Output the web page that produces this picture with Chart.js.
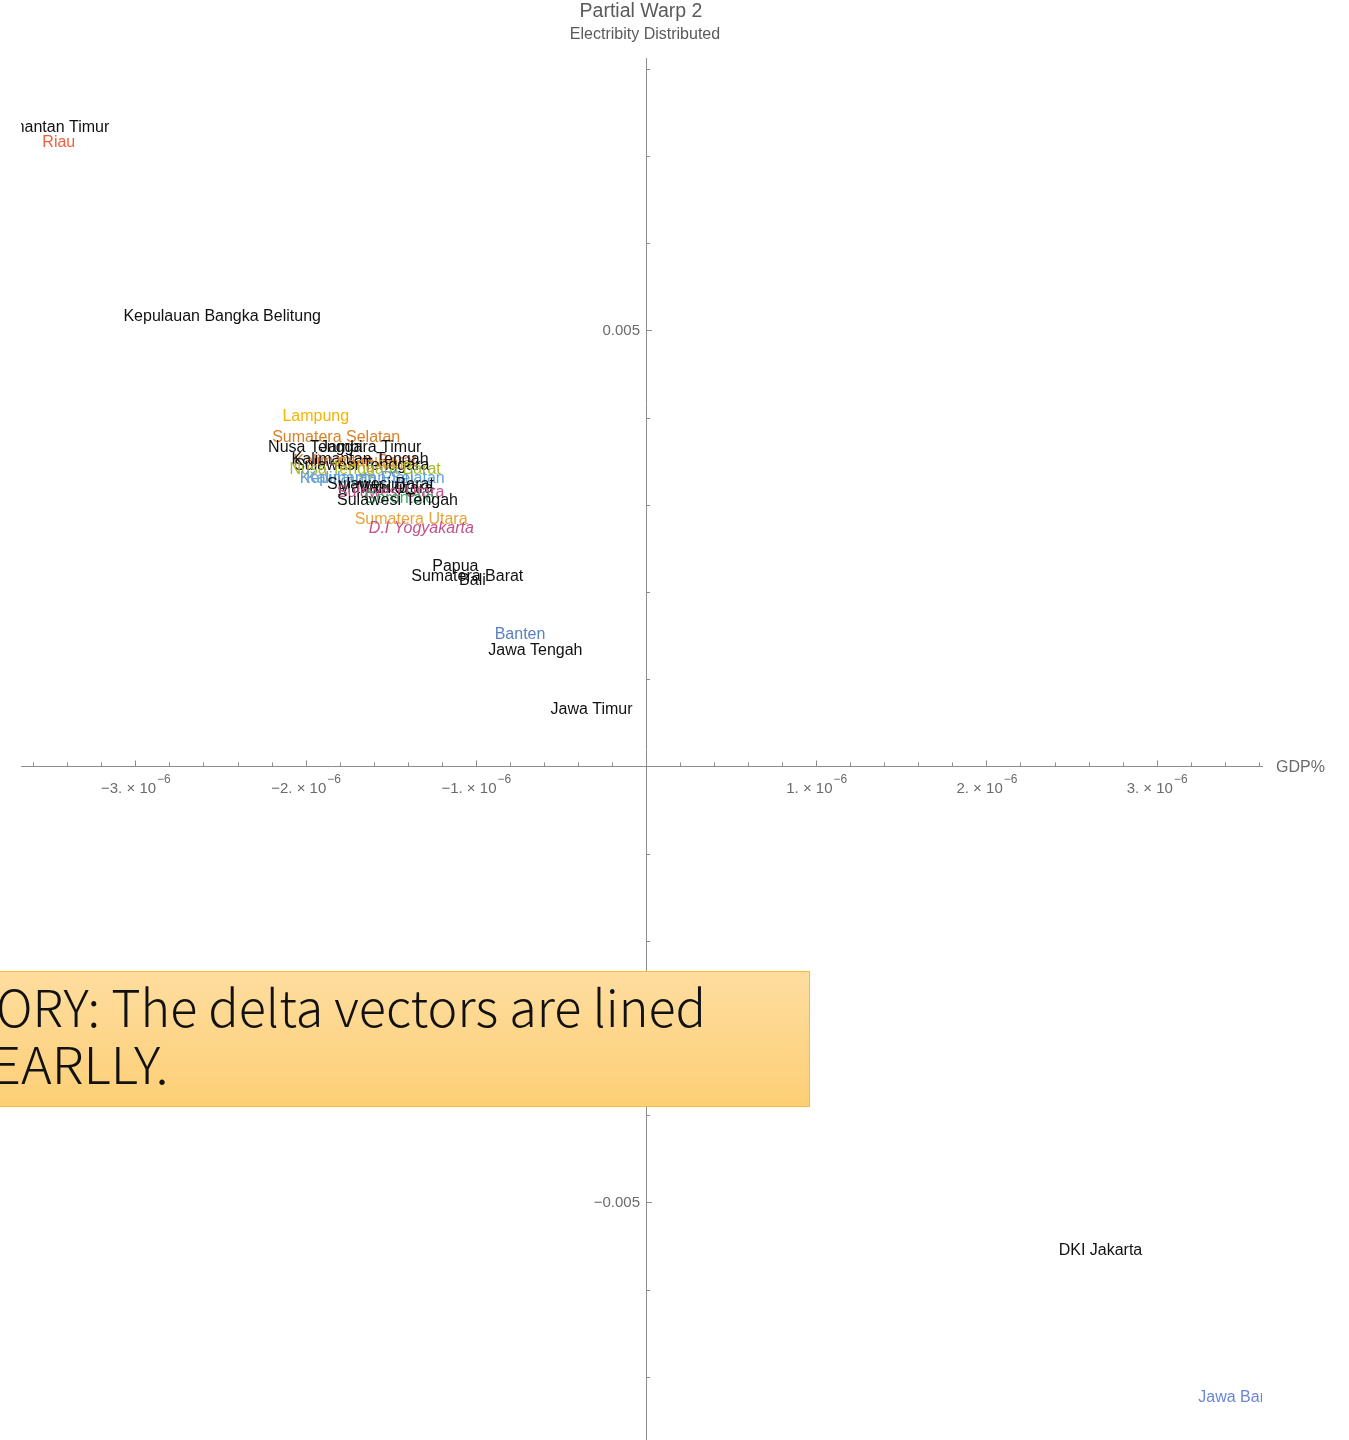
<!DOCTYPE html>
<html>
<head>
<meta charset="utf-8">
<script src="https://cdn.jsdelivr.net/npm/chart.js@4.4.0/dist/chart.umd.min.js"></script>
<style>
html, body { margin: 0; padding: 0; background: #fff; }
#wrap { position: relative; width: 1349px; height: 1440px; overflow: hidden; }
</style>
</head>
<body>
<div id="wrap"><canvas id="chart" width="1349" height="1440"></canvas></div>
<script>
// province labels, placed at their (GDP%, electricity) partial warp coordinates
const provinces = [
    "Kalimantan Timur", "Riau", "Kepulauan Bangka Belitung", "Lampung", "Sumatera Selatan",
    "Nusa Tenggara Timur", "Jambi", "Kalimantan Barat", "Kalimantan Tengah", "Bengkulu",
    "Sulawesi Tenggara", "Nusa Tenggara Barat", "Kepulauan Riau", "Kalimantan Selatan",
    "Sulawesi Barat", "Maluku", "Maluku Utara", "Sulawesi Utara", "Gorontalo", "Sulawesi Tengah",
    "Sumatera Utara", "D.I Yogyakarta", "Papua", "Sumatera Barat", "Bali", "Banten",
    "Jawa Tengah", "Jawa Timur", "DKI Jakarta", "Jawa Barat"
]

// GDP% (x 10^-6)
const gdpShift = [
    -3.52, -3.45, -2.49, -1.94, -1.82,
    -1.77, -1.79, -1.71, -1.68, -1.62,
    -1.67, -1.65, -1.70, -1.59,
    -1.56, -1.55, -1.53, -1.50, -1.45, -1.46,
    -1.38, -1.32, -1.12, -1.05, -1.02, -0.74,
    -0.65, -0.32, 2.67, 3.48
]

// Electricity distributed (x 10^-3)
const elecShift = [
    7.35, 7.18, 5.18, 4.03, 3.79,
    3.68, 3.68, 3.52, 3.54, 3.49,
    3.47, 3.43, 3.33, 3.32,
    3.26, 3.21, 3.21, 3.16, 3.10, 3.07,
    2.86, 2.75, 2.32, 2.20, 2.15, 1.54,
    1.35, 0.68, -5.53, -7.22
]

const labelColors = [
    "#111111", "#f0623e", "#111111", "#f6b400", "#d9822b",
    "#111111", "#111111", "#e0763a", "#111111", "#eb9a2c",
    "#111111", "#a3b82c", "#6d9bc8", "#5ea3d9",
    "#111111", "#111111", "#111111", "#c2508c", "#3fae6a", "#111111",
    "#e8a33a", "#c2508c", "#111111", "#111111", "#111111", "#5b7fc4",
    "#111111", "#111111", "#111111", "#6b86d8"
]
const italicLabels = ["D.I Yogyakarta"]

// tick labels
const xMajorTicks = [-3, -2, -1, 1, 2, 3]        // x 10^-6
const yLabelTicks = [0.005, -0.005]

const X_MIN = -3.672e-6, X_MAX = 3.619e-6
const Y_MIN = -7.724e-3, Y_MAX = 8.125e-3

const AXIS_COLOR = "#8c8c8c"
const TICK_TEXT = "#6b6b6b"


// LABEL TEKS DI TITIK DATA
const textLabels = {
    id: "textLabels",
    afterDatasetsDraw(chart) {
        const { ctx, chartArea } = chart
        const meta = chart.getDatasetMeta(0)
        ctx.save()
        ctx.beginPath()
        ctx.rect(chartArea.left, chartArea.top, chartArea.right - chartArea.left, chartArea.bottom - chartArea.top)
        ctx.clip()
        ctx.textAlign = "center"
        ctx.textBaseline = "middle"
        meta.data.forEach((pt, i) => {
            const italic = italicLabels.includes(provinces[i]) ? "italic " : ""
            ctx.font = italic + '16px "Liberation Sans", Arial, sans-serif'
            ctx.fillStyle = labelColors[i]
            ctx.fillText(provinces[i], pt.x, pt.y + 2)
        })
        ctx.restore()
    }
}


// TICK, JUDUL DAN KOTAK CATATAN
const decorations = {
    id: "decorations",
    afterDraw(chart) {
        const { ctx } = chart
        const xs = chart.scales.x
        const ys = chart.scales.y
        const x0 = xs.getPixelForValue(0)
        const y0 = ys.getPixelForValue(0)

        ctx.save()
        ctx.strokeStyle = AXIS_COLOR
        ctx.lineWidth = 1

        // x ticks (minor every 0.2, major every 1)
        for (let k = -18; k <= 18; k++) {
            if (k === 0) continue
            const px = Math.round(xs.getPixelForValue(k * 0.2e-6)) + 0.5
            const len = k % 5 === 0 ? 6 : 4
            ctx.beginPath()
            ctx.moveTo(px, y0)
            ctx.lineTo(px, y0 - len)
            ctx.stroke()
        }
        // y ticks (every 0.001)
        for (let k = -7; k <= 8; k++) {
            if (k === 0) continue
            const py = Math.round(ys.getPixelForValue(k * 0.001)) + 0.5
            const len = Math.abs(k) === 5 ? 6 : 4
            ctx.beginPath()
            ctx.moveTo(x0, py)
            ctx.lineTo(x0 + len, py)
            ctx.stroke()
        }

        // x tick labels  "−3. × 10^−6"
        ctx.fillStyle = TICK_TEXT
        ctx.textBaseline = "alphabetic"
        xMajorTicks.forEach(v => {
            const base = (v < 0 ? "\u2212" : "") + Math.abs(v) + ". \u00d7 10"
            const sup = "\u22126"
            ctx.font = '15px "Liberation Sans", Arial, sans-serif'
            const wb = ctx.measureText(base).width
            ctx.font = '12px "Liberation Sans", Arial, sans-serif'
            const ws = ctx.measureText(sup).width
            const px = xs.getPixelForValue(v * 1e-6)
            const left = px - (wb + ws) / 2
            ctx.textAlign = "left"
            ctx.font = '15px "Liberation Sans", Arial, sans-serif'
            ctx.fillText(base, left, y0 + 27)
            ctx.font = '12px "Liberation Sans", Arial, sans-serif'
            ctx.fillText(sup, left + wb + 1, y0 + 17)
        })

        // y tick labels
        ctx.font = '15px "Liberation Sans", Arial, sans-serif'
        ctx.textAlign = "right"
        ctx.textBaseline = "middle"
        yLabelTicks.forEach(v => {
            const txt = (v < 0 ? "\u2212" : "") + Math.abs(v).toFixed(3)
            ctx.fillText(txt, x0 - 6, ys.getPixelForValue(v))
        })

        // axis names
        ctx.font = '16px "Liberation Sans", Arial, sans-serif'
        ctx.textAlign = "left"
        ctx.fillText("GDP%", chart.chartArea.right + 14, y0 + 1)

        ctx.fillStyle = "#5a5a5a"
        ctx.textAlign = "center"
        ctx.font = '19.5px "Liberation Sans", Arial, sans-serif'
        ctx.fillText("Partial Warp 2", x0 - 5, 12)
        ctx.font = '16px "Liberation Sans", Arial, sans-serif'
        ctx.fillText("Electribity Distributed", x0 - 1, 35)

        // kotak catatan kuning
        const bx = -2, by = 971, bw = 812, bh = 136
        const grad = ctx.createLinearGradient(0, by, 0, by + bh)
        grad.addColorStop(0, "#fedd9f")
        grad.addColorStop(1, "#fdcf76")
        ctx.fillStyle = grad
        ctx.fillRect(bx, by, bw, bh)
        ctx.strokeStyle = "#f3bd38"
        ctx.strokeRect(bx + 0.5, by + 0.5, bw - 1, bh - 1)

        const line1 = "ORY: The delta vectors are lined"
        const line2 = "EARLLY."
        ctx.font = '300 51px "Noto Sans CJK JP", "Noto Sans", sans-serif'
        ctx.fillStyle = "#111111"
        ctx.textAlign = "left"
        ctx.textBaseline = "alphabetic"
        const w1 = ctx.measureText(line1).width
        const r = 710 / w1
        ctx.save()
        ctx.translate(-4, 1027)
        ctx.scale(r, 1)
        ctx.fillText(line1, 0, 0)
        ctx.restore()
        ctx.save()
        ctx.translate(-9, 1084)
        ctx.scale(r * 1.04, 1)
        ctx.fillText(line2, 0, 0)
        ctx.restore()

        ctx.restore()
    }
}


const points = provinces.map((p, i) => ({ x: gdpShift[i] * 1e-6, y: elecShift[i] * 1e-3 }))

new Chart(document.getElementById("chart"), {
    type: "scatter",
    data: {
        datasets: [{
            data: points,
            pointRadius: 0,
            pointHoverRadius: 0
        }]
    },
    options: {
        responsive: false,
        animation: false,
        layout: {
            padding: { left: 21, right: 87, top: 58, bottom: 0 }
        },
        plugins: {
            legend: { display: false },
            tooltip: { enabled: false }
        },
        scales: {
            x: {
                type: "linear",
                min: X_MIN,
                max: X_MAX,
                position: { y: 0 },
                grid: { display: false, drawTicks: false },
                border: { display: true, color: AXIS_COLOR, width: 1 },
                ticks: { display: false }
            },
            y: {
                type: "linear",
                min: Y_MIN,
                max: Y_MAX,
                position: { x: 0 },
                grid: { display: false, drawTicks: false },
                border: { display: true, color: AXIS_COLOR, width: 1 },
                ticks: { display: false }
            }
        }
    },
    plugins: [textLabels, decorations]
})
</script>
</body>
</html>
